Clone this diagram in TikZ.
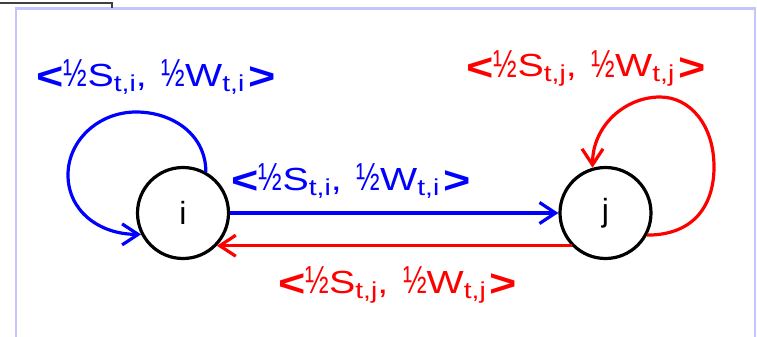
\documentclass[tikz,border=0pt]{standalone}
\usepackage{fontspec}
\usepackage{graphicx}
\setmainfont{Liberation Sans}
\usetikzlibrary{arrows.meta,calc}
\definecolor{frm}{RGB}{196,196,255}
\newcommand\subsc[1]{\raisebox{-5pt}{\fontsize{23}{25}\selectfont #1}}
\newcommand\angl[1]{\raisebox{-3.5pt}{\fontsize{38}{40}\selectfont\bfseries #1}}
\newcommand\half{\raisebox{-0.5pt}{\scalebox{0.72}[1.22]{\fontsize{32}{34}\selectfont ½}}}
\newcommand\lab[1]{\scalebox{1.23}[1]{\angl{<}\half S\subsc{t,#1},\kern12pt\half W\subsc{t,#1}\kern3pt\angl{>}}}
\begin{document}
\begin{tikzpicture}[x=1pt,y=-1pt,
  state/.style={circle,draw=black,line width=3.2pt,minimum size=91pt,inner sep=0pt,font=\fontsize{32}{34}\selectfont},
  conn/.style={line width=3.2pt,-{Straight Barb[length=16pt,width=21pt,line width=3.2pt]}},
  lbl/.style={anchor=base,inner sep=0pt,font=\fontsize{32}{34}\selectfont}]
\useasboundingbox (0,0) rectangle (757,337);
\fill[white] (0,0) rectangle (757,337);
\draw[frm,line width=2.2pt] (16,340) -- (16,8.5) -- (755,8.5) -- (755,340);
\draw[black!75,line width=2pt] (0,3) -- (112,3) -- (112,8);
\node[state] (i) at (183,213) {i};
\node[state] (j) at (605.5,213) {j};
\coordinate (li) at (136,112);
\coordinate (lj) at (660,97);
\draw[conn,blue] (i.east) -- (j.west);
\draw[conn,red] (j.224) -- (i.-44);
\draw[conn,blue] (i.61) .. controls +(0,-37) and +(37,0) .. (li)
  .. controls +(-37,0) and +(0,-35) .. (68,175)
  .. controls +(0,35) and +(-43,0) .. (i.207);
\draw[conn,red] (j.-28) .. controls +(47,0) and +(0,38) .. (714,167)
  .. controls +(0,-42) and +(30,0) .. (lj)
  .. controls +(-35,0) and +(0,-42) .. (j.106);
\node[lbl,blue] (tl) at (156,86) {\lab{i}};
\node[lbl,red] (tr) at (586,77) {\lab{j}};
\node[lbl,blue] (ml) at (351,190) {\lab{i}};
\node[lbl,red] (bl) at (397.5,293) {\lab{j}};
\end{tikzpicture}
\end{document}
